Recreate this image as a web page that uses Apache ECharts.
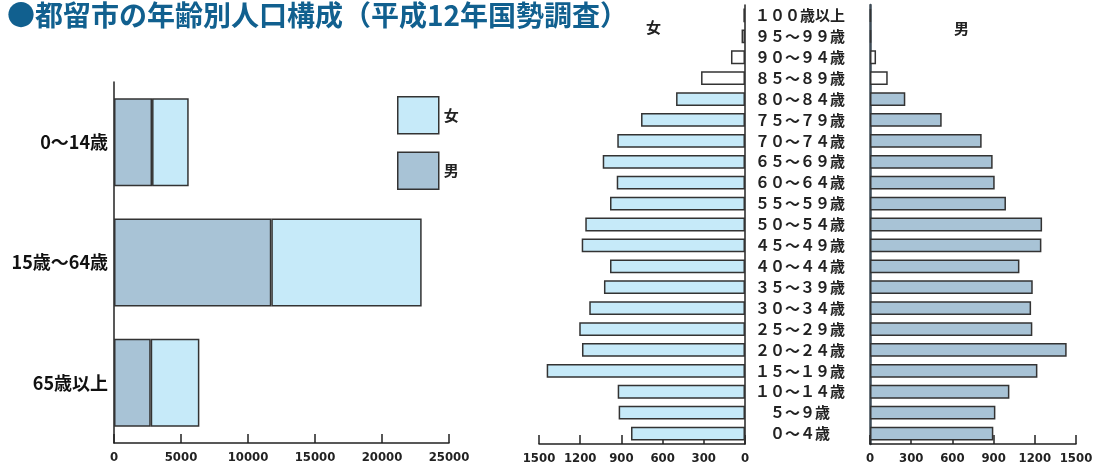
<!DOCTYPE html>
<html>
<head>
<meta charset="utf-8">
<script src="https://cdn.jsdelivr.net/npm/echarts@6/dist/echarts.min.js"></script>
<style>
  html, body { margin: 0; padding: 0; background: #fff; }
  #chart { width: 1096px; height: 465px; }
</style>
</head>
<body>
<div id="chart"></div>
<script>
// 3 age groups (bottom to top on the axis)
const groupNames = ['65歳以上', '15歳～64歳', '0～14歳'];
const groupMale = [2740, 11740, 2840];
const groupFemale = [3630, 11220, 2735];

// 5-year age classes, bottom (0~4) to top (100+)
const ageNames = [
    '０～４歳', '５～９歳', '１０～１４歳', '１５～１９歳', '２０～２４歳',
    '２５～２９歳', '３０～３４歳', '３５～３９歳', '４０～４４歳', '４５～４９歳',
    '５０～５４歳', '５５～５９歳', '６０～６４歳', '６５～６９歳', '７０～７４歳',
    '７５～７９歳', '８０～８４歳', '８５～８９歳', '９０～９４歳', '９５～９９歳',
    '１００歳以上'
];
const ageFemale = [830, 920, 927, 1444, 1187, 1207, 1134, 1027, 983, 1189,
                   1163, 983, 934, 1036, 930, 757, 502, 320, 102, 25, 12];
const ageMale = [898, 913, 1015, 1219, 1432, 1182, 1173, 1185, 1088, 1248,
                 1253, 990, 908, 893, 813, 522, 257, 129, 44, 8, 6];

const FEMALE = '#c6eaf9';
const MALE = '#a8c3d6';
const EDGE = '#333';
const narrow = "'Liberation Sans Narrow', 'DejaVu Sans Condensed', 'Roboto Condensed', 'Liberation Sans', sans-serif";
const jp = "'Noto Sans CJK JP', sans-serif";

// 85歳以上 are drawn unfilled
const whiteFrom = 17;
const withWhite = function (arr) {
    return arr.map((v, i) => i >= whiteFrom ? { value: v, itemStyle: { color: '#fff' } } : v);
};

const chart = echarts.init(document.getElementById('chart'));

const valueAxis = function (grid, max, step, inverse, size) {
    return {
        type: 'value', gridIndex: grid, min: 0, max: max, interval: step, inverse: inverse,
        splitLine: { show: false },
        axisLine: { show: true, lineStyle: { color: '#222', width: 1.5 } },
        axisTick: { show: true, inside: true, length: 9, lineStyle: { color: '#222', width: 1.5 } },
        axisLabel: {
            color: '#222', fontFamily: narrow, fontWeight: 'bold', fontSize: size, margin: 8,
            formatter: v => String(v)
        }
    };
};

chart.setOption({
    animation: false,
    textStyle: { fontFamily: jp },

    title: [{
        text: '●都留市の年齢別人口構成（平成12年国勢調査）',
        left: 2, top: -4,
        textStyle: { fontSize: 28, fontWeight: 'bold', color: '#11608f', fontFamily: jp }
    }, {
        text: '女', left: 641, top: 15,
        textStyle: { fontSize: 15, fontWeight: 'bold', color: '#222', fontFamily: jp }
    }, {
        text: '男', left: 949, top: 16,
        textStyle: { fontSize: 15, fontWeight: 'bold', color: '#222', fontFamily: jp }
    }],

    legend: {
        data: ['女', '男'],
        orient: 'vertical',
        left: 392, top: 91,
        itemWidth: 41, itemHeight: 37, itemGap: 17,
        icon: 'rect',
        selectedMode: false,
        itemStyle: { borderColor: EDGE, borderWidth: 1.5 },
        textStyle: { fontSize: 15, fontWeight: 'bold', color: '#222', fontFamily: jp }
    },

    grid: [
        { left: 114, right: 647, top: 82, bottom: 22 },
        { left: 539, right: 351, top: 5, bottom: 21 },
        { left: 870, right: 20, top: 5, bottom: 21 }
    ],

    xAxis: [
        valueAxis(0, 25000, 5000, false, 13),
        valueAxis(1, 1500, 300, true, 13),
        valueAxis(2, 1500, 300, false, 13)
    ],

    yAxis: [{
        type: 'category', gridIndex: 0, data: groupNames,
        axisLine: { lineStyle: { color: '#222', width: 1.5 } },
        axisTick: { show: false },
        axisLabel: { color: '#111', fontSize: 18, fontWeight: 'bold', margin: 6 }
    }, {
        type: 'category', gridIndex: 1, data: ageNames, position: 'right',
        axisLine: { lineStyle: { color: '#222', width: 1.5 } },
        axisTick: { show: false },
        axisLabel: {
            color: '#222', fontSize: 15, fontWeight: 'bold', align: 'center', margin: 55,
            interval: 0
        }
    }, {
        type: 'category', gridIndex: 2, data: ageNames,
        axisLine: { lineStyle: { color: '#3d4a55', width: 2.5 } },
        axisTick: { show: false },
        axisLabel: { show: false }
    }],

    series: [{
        name: '男', type: 'bar', stack: 'g', xAxisIndex: 0, yAxisIndex: 0,
        data: groupMale, barWidth: 88,
        itemStyle: { color: MALE, borderColor: EDGE, borderWidth: 1.5 }
    }, {
        name: '女', type: 'bar', stack: 'g', xAxisIndex: 0, yAxisIndex: 0,
        data: groupFemale, barWidth: 88,
        itemStyle: { color: FEMALE, borderColor: EDGE, borderWidth: 1.5 }
    }, {
        name: '女', type: 'bar', xAxisIndex: 1, yAxisIndex: 1,
        data: withWhite(ageFemale), barWidth: '66%',
        itemStyle: { color: FEMALE, borderColor: EDGE, borderWidth: 1.5 }
    }, {
        name: '男', type: 'bar', xAxisIndex: 2, yAxisIndex: 2,
        data: withWhite(ageMale), barWidth: '66%',
        itemStyle: { color: MALE, borderColor: EDGE, borderWidth: 1.5 }
    }]
});
</script>
</body>
</html>
